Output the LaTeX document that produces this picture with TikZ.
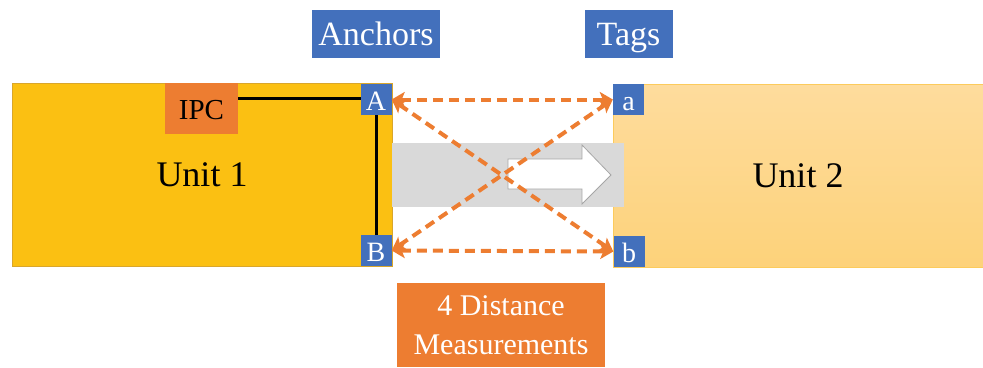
\documentclass[tikz,border=0pt]{standalone}
\usepackage{fontspec}
\setmainfont{Liberation Serif}
\usepackage{xcolor}
\usepackage{tikz}
\usetikzlibrary{arrows.meta,positioning}

\definecolor{unitgold}{HTML}{FBC012}
\definecolor{unitedge}{HTML}{D9A62B}
\definecolor{unitlight}{HTML}{FEDC9D}
\definecolor{unitlightb}{HTML}{FDD27A}
\definecolor{unitlightedge}{HTML}{FCCB5C}
\definecolor{tagblue}{HTML}{4370BC}
\definecolor{measorange}{HTML}{ED7D31}
\definecolor{bandgray}{HTML}{D9D9D9}

\begin{document}
\begin{tikzpicture}[
    x=1pt, y=-1pt, node distance=26pt,
    unit/.style={rectangle, inner sep=0pt, minimum height=183pt, font=\fontsize{36}{40}\selectfont},
    tag/.style={rectangle, fill=tagblue, text=white, inner sep=0pt, minimum width=31pt, minimum height=31pt, text height=21pt, text depth=0pt, font=\fontsize{28}{30}\selectfont},
    lbl/.style={rectangle, fill=tagblue, text=white, inner sep=0pt, minimum height=48pt, text height=24pt, text depth=0pt, font=\fontsize{34}{36}\selectfont},
    wire/.style={line width=3pt},
    meas/.style={{Stealth[length=13pt,width=15pt,inset=3pt]}-{Stealth[length=13pt,width=15pt,inset=3pt]}, draw=measorange, line width=4pt, dash pattern=on 10pt off 6pt}
]
\useasboundingbox (0,0) rectangle (983,367);
% the two units
\node[unit, fill=unitgold, draw=unitedge, minimum width=380pt] (unit1) at (202,174.5) {Unit 1};
\node[unit, top color=unitlight, bottom color=unitlightb, draw=unitlightedge, minimum width=370pt] (unit2) at (798,175.5) {Unit 2};
% motion band and block arrow
\fill[bandgray] (392,143) rectangle (624,207);
\filldraw[fill=white, draw=gray!70, line width=0.8pt] (508,159) -- (582,159) -- (582,145) -- (611,175) -- (582,204) -- (582,189) -- (508,189) -- cycle;
% controller, anchors and tags
\node[fill=measorange, inner sep=0pt, minimum width=73pt, minimum height=51pt, text height=21pt, text depth=0pt, font=\fontsize{29}{30}\selectfont] (ipc) at (201.5,108.5) {IPC};
\draw[wire] (376,98) -- (ipc.east |- 0,98);
\draw[wire] (376,99.5) -- (376,250.5);
\node[tag] (ancA) at (376,99.5) {A};
\node[tag] (ancB) at (376,250.5) {B};
\node[tag] (tagA) at (628.5,99.5) {a};
\node[tag] (tagB) at (629,251.5) {b};
\node[lbl, minimum width=128pt, above=of ancA] (anchors) {Anchors};
\node[lbl, minimum width=88pt, above=of tagA] (tags) {Tags};
% ranging links
\foreach \s in {ancA,ancB} {\foreach \t in {tagA,tagB} {\draw[meas] (\s.east) -- (\t.west);}}
\node[fill=measorange, text=white, inner sep=0pt, minimum width=208pt, minimum height=84pt, align=center, font=\fontsize{30}{39}\selectfont] (dist) at (501,325) {4 Distance\\Measurements};
\end{tikzpicture}
\end{document}
